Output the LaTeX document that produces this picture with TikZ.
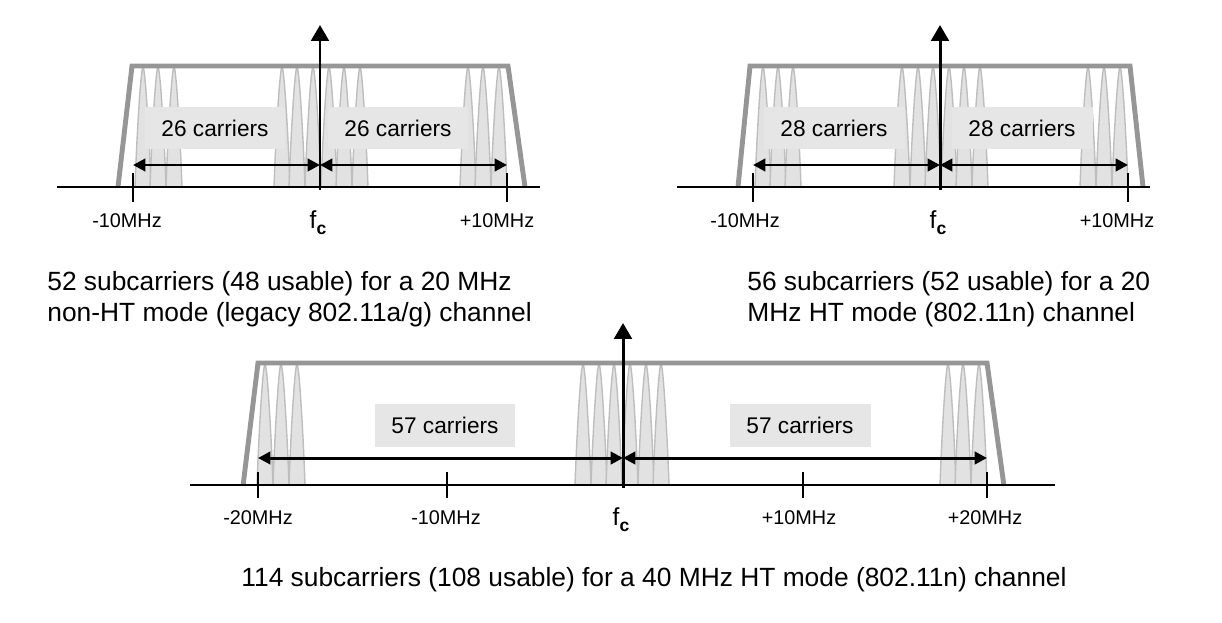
\documentclass[tikz,border=0pt]{standalone}
\usepackage{fontspec}
\setmainfont{Liberation Sans}
\usetikzlibrary{arrows.meta}

\definecolor{maskgray}{HTML}{969696}
\definecolor{lobefill}{HTML}{E2E2E2}
\definecolor{lobeline}{HTML}{BEBEBE}
\definecolor{boxgray}{HTML}{E6E6E6}

\begin{document}
\begin{tikzpicture}[
  x=0.02cm,
  y=-0.02cm,
  lobe/.style={
    fill=lobefill,
    draw=lobeline,
    line width=0.8pt
  },
  mask/.style={
    draw=maskgray,
    line width=2.8pt
  },
  axis/.style={
    line width=1.1pt
  },
  tickmark/.style={
    line width=1.1pt
  },
  span/.style={
    <->,
    >={Triangle[length=7pt,width=7pt]},
    line width=1.7pt
  },
  carrier/.style={
    -{Triangle[length=9pt,width=10pt]},
    line width=1.7pt
  },
  count/.style={
    fill=boxgray,
    minimum width=2.82cm,
    minimum height=0.86cm,
    inner sep=0pt,
    font=\fontsize{12.9}{15}\selectfont
  },
  freq/.style={
    anchor=base,
    inner sep=0pt,
    font=\fontsize{11.3}{13}\selectfont
  },
  centre/.style={
    anchor=base,
    inner sep=0pt,
    font=\fontsize{14}{16}\selectfont
  },
  caption/.style={
    inner sep=0pt,
    align=left,
    font=\fontsize{15}{17.6}\selectfont
  }
]

\path[use as bounding box] (0,0) rectangle (1222,622);

% 20 MHz non-HT
\foreach \f in {143,158,174,282,297,313,329,344,360,468,483,499}
  \draw[lobe] (\f-8,187) .. controls (\f-6,130) and (\f-2,67) .. (\f,67)
    .. controls (\f+2,67) and (\f+6,130) .. (\f+8,187);
\draw[mask] (118,187) -- (132,66) -- (508,66) -- (525,187);

\node[count] (a-left)  at (215,128) {26 carriers};
\node[count] (a-right) at (398,128) {26 carriers};

\draw[axis] (57,187) -- (540,187);
\draw[tickmark] (133,173) -- (133,202);
\draw[tickmark] (507,173) -- (507,202);

\coordinate (a-lo)  at (133,165);
\coordinate (a-mid) at (320,165);
\coordinate (a-hi)  at (507,165);
\coordinate (a-fc)  at (320,190);
\coordinate (a-top) at (320,25);
\draw[span] (a-lo) -- (a-mid);
\draw[span] (a-mid) -- (a-hi);
\draw[carrier] (a-fc) -- (a-top);

\node[freq]   (a-m10) at (127,227) {-10MHz};
\node[centre] (a-f)   at (318,228) {f\raisebox{-3.5pt}{\fontsize{10}{10}\selectfont\bfseries c}};
\node[freq]   (a-p10) at (497,227) {+10MHz};

\node[caption, anchor=north west] (a-cap) at (47,271)
  {52 subcarriers (48 usable) for a 20 MHz\\non-HT mode (legacy 802.11a/g) channel};

% 20 MHz HT
\foreach \f in {763,778,793,902,918,933,949,964,980,1088,1104,1120}
  \draw[lobe] (\f-8,187) .. controls (\f-6,130) and (\f-2,67) .. (\f,67)
    .. controls (\f+2,67) and (\f+6,130) .. (\f+8,187);
\draw[mask] (738,187) -- (750,66) -- (1130,66) -- (1143,187);

\node[count] (b-left)  at (834,128) {28 carriers};
\node[count] (b-right) at (1022,128) {28 carriers};

\draw[axis] (677,187) -- (1150,187);
\draw[tickmark] (753,173) -- (753,202);
\draw[tickmark] (1128,173) -- (1128,202);

\coordinate (b-lo)  at (753,165);
\coordinate (b-mid) at (940,165);
\coordinate (b-hi)  at (1128,165);
\coordinate (b-fc)  at (940,190);
\coordinate (b-top) at (940,25);
\draw[span] (b-lo) -- (b-mid);
\draw[span] (b-mid) -- (b-hi);
\draw[carrier] (b-fc) -- (b-top);

\node[freq]   (b-m10) at (745,227) {-10MHz};
\node[centre] (b-f)   at (938,228) {f\raisebox{-3.5pt}{\fontsize{10}{10}\selectfont\bfseries c}};
\node[freq]   (b-p10) at (1117,227) {+10MHz};

\node[caption, anchor=north west] (b-cap) at (747,271)
  {56 subcarriers (52 usable) for a 20\\MHz HT mode (802.11n) channel};

% 40 MHz HT
\foreach \f in {265,281,297,583,599,614,630,646,661,948,963,979}
  \draw[lobe] (\f-8,485) .. controls (\f-6,428) and (\f-2,364) .. (\f,364)
    .. controls (\f+2,364) and (\f+6,428) .. (\f+8,485);
\draw[mask] (243,486) -- (258,363) -- (987,363) -- (1004,486);

\node[count] (c-left)  at (445,425) {57 carriers};
\node[count] (c-right) at (800,425) {57 carriers};

\draw[axis] (190,485) -- (1055,485);
\draw[tickmark] (258,472) -- (258,498);
\draw[tickmark] (447,472) -- (447,498);
\draw[tickmark] (803,472) -- (803,498);
\draw[tickmark] (987,472) -- (987,498);

\coordinate (c-lo)  at (258,458);
\coordinate (c-mid) at (623,458);
\coordinate (c-hi)  at (987,458);
\coordinate (c-fc)  at (623,488);
\coordinate (c-top) at (623,323);
\draw[span] (c-lo) -- (c-mid);
\draw[span] (c-mid) -- (c-hi);
\draw[carrier] (c-fc) -- (c-top);

\node[freq]   (c-m20) at (258,524) {-20MHz};
\node[freq]   (c-m10) at (446,524) {-10MHz};
\node[centre] (c-f)   at (621,525) {f\raisebox{-3.5pt}{\fontsize{10}{10}\selectfont\bfseries c}};
\node[freq]   (c-p10) at (799,524) {+10MHz};
\node[freq]   (c-p20) at (985,524) {+20MHz};

\node[caption, anchor=base] (c-cap) at (654,586)
  {114 subcarriers (108 usable) for a 40 MHz HT mode (802.11n) channel};

\end{tikzpicture}
\end{document}
